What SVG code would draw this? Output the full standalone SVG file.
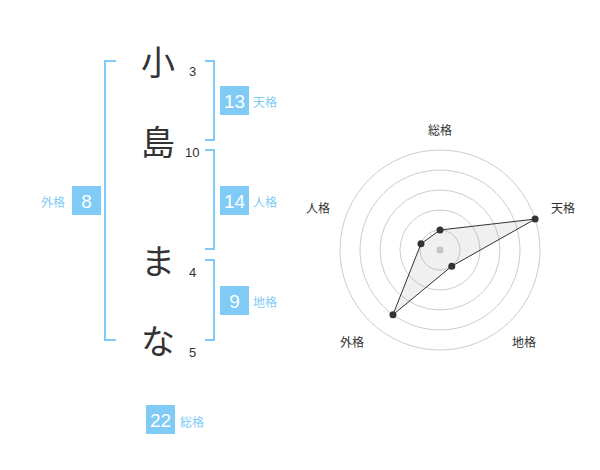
<svg xmlns="http://www.w3.org/2000/svg" width="600" height="470" viewBox="0 0 600 470">
<style>
.ch{font-family:"Noto Sans CJK JP","Noto Sans CJK SC",sans-serif;font-size:34px;fill:#333;text-anchor:middle}
.num{font-family:"Liberation Sans",Arial,sans-serif;font-size:13px;fill:#333}
.br{fill:none;stroke:#7fcbf5;stroke-width:2}
.box{fill:#7fcbf5}
.bt{font-family:"Liberation Sans",Arial,sans-serif;font-size:19px;fill:#fff;text-anchor:middle}
.lb{font-family:"Noto Sans CJK JP","Noto Sans CJK SC",sans-serif;font-size:12px;fill:#7fcbf5}
.ax{font-family:"Noto Sans CJK JP","Noto Sans CJK SC",sans-serif;font-size:12px;fill:#333;text-anchor:middle}
.ring{fill:none;stroke:#ccc;stroke-width:1}
</style>
<rect width="600" height="470" fill="#fff"/>
<g id="chars">
<text class="ch" x="158" y="75">小</text>
<text class="ch" x="158" y="155">島</text>
<text class="ch" x="158" y="274">ま</text>
<text class="ch" x="158" y="354">な</text>
<text class="num" x="189" y="76">3</text>
<text class="num" x="185" y="157">10</text>
<text class="num" x="189" y="277">4</text>
<text class="num" x="189" y="357">5</text>
</g>
<g id="connectors">
<polyline class="br" points="116,61 105,61 105,340 116,340"/>
<polyline class="br" points="205,61 214,61 214,140 205,140"/>
<polyline class="br" points="205,150 214,150 214,249 205,249"/>
<polyline class="br" points="205,260 214,260 214,340 205,340"/>
</g>
<g id="tenkaku">
<rect class="box" x="220" y="86" width="29" height="29"/>
<text class="bt" x="234.5" y="108">13</text>
<text class="lb" x="253" y="107">天格</text>
</g>
<g id="jinkaku">
<rect class="box" x="220" y="186" width="29" height="29"/>
<text class="bt" x="234.5" y="208">14</text>
<text class="lb" x="253" y="207">人格</text>
</g>
<g id="chikaku">
<rect class="box" x="220" y="286" width="29" height="29"/>
<text class="bt" x="234.5" y="308">9</text>
<text class="lb" x="253" y="307">地格</text>
</g>
<g id="gaikaku">
<rect class="box" x="72" y="186" width="29" height="29"/>
<text class="bt" x="86.5" y="208">8</text>
<text class="lb" x="41" y="207">外格</text>
</g>
<g id="soukaku">
<rect class="box" x="146" y="405" width="29" height="29"/>
<text class="bt" x="160.5" y="427">22</text>
<text class="lb" x="180" y="427">総格</text>
</g>
<g id="radar">
<circle class="ring" cx="440" cy="250" r="20"/>
<circle class="ring" cx="440" cy="250" r="40"/>
<circle class="ring" cx="440" cy="250" r="60"/>
<circle class="ring" cx="440" cy="250" r="80"/>
<circle class="ring" cx="440" cy="250" r="100"/>
<circle cx="440" cy="250" r="3.5" fill="#ccc"/>
<polygon points="440,230 535.1,219.1 451.76,266.18 392.98,314.72 420.98,243.82" fill="#999" fill-opacity="0.15" stroke="#333" stroke-width="1"/>
<g fill="#333">
<circle cx="440" cy="230" r="3.5"/>
<circle cx="535.1" cy="219.1" r="3.5"/>
<circle cx="451.76" cy="266.18" r="3.5"/>
<circle cx="392.98" cy="314.72" r="3.5"/>
<circle cx="420.98" cy="243.82" r="3.5"/>
</g>
<text class="ax" x="440" y="135">総格</text>
<text class="ax" x="563" y="213">天格</text>
<text class="ax" x="318" y="213">人格</text>
<text class="ax" x="352" y="347">外格</text>
<text class="ax" x="524" y="347">地格</text>
</g>
</svg>
